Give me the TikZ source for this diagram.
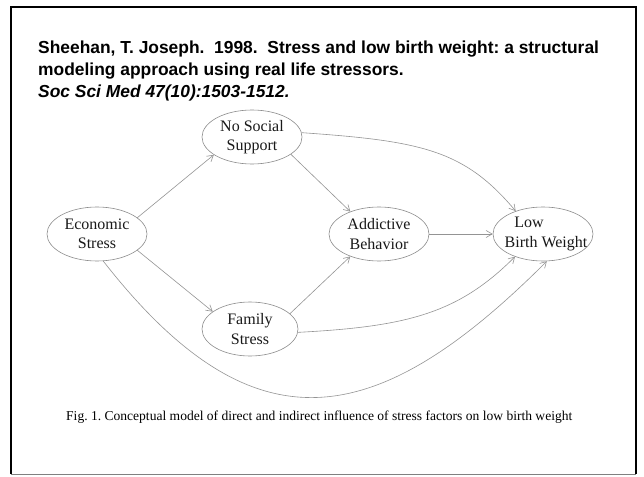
\documentclass[tikz,border=0pt]{standalone}
\usepackage{fontspec}
\setmainfont{Liberation Serif}
\newfontfamily\titlefont{Liberation Sans}
\usetikzlibrary{arrows.meta,shapes.geometric}
\frenchspacing
\begin{document}
\begin{tikzpicture}[x=1pt,y=1pt,
  factor/.style={ellipse, draw=black!45, line width=0.6pt,
    minimum width=100pt, minimum height=54pt, inner sep=0pt},
  lbl/.style={align=center, font=\fontsize{16}{19.5}\selectfont, text=black!90},
  link/.style={draw=black!42, line width=0.6pt,
    -{Straight Barb[length=6pt,width=7pt]}},
  titleline/.style={anchor=base west, inner sep=0pt,
    font=\titlefont\bfseries\fontsize{17.4}{21}\selectfont}
]
\useasboundingbox (0,0) rectangle (644,-476);
\fill[white] (0,0) rectangle (644,-476);

% slide frame
\draw[line width=2pt] (11,-474) -- (11,-7) -- (636,-7) -- (636,-474);
\draw[line width=1pt, black!50] (11,-474) -- (636,-474);

% citation
\node[titleline] (t1) at (38,-54) {Sheehan, T. Joseph.\ \ 1998.\ \ Stress and low birth weight: a structural};
\node[titleline] (t2) at (38,-76) {modeling approach using real life stressors.};
\node[titleline, font=\titlefont\bfseries\itshape\fontsize{17.4}{21}\selectfont] (t3) at (38,-98) {Soc Sci Med 47(10):1503-1512.};

% factors
\node[factor] (eco) at (97,-234) {};
\node[factor] (nss) at (252,-137) {};
\node[factor, minimum width=96pt] (fam) at (250,-329) {};
\node[factor] (add) at (379,-234) {};
\node[factor] (lbw) at (543,-234) {};

\node[lbl] at (eco) {Economic\\Stress};
\node[lbl] at (nss) {No Social\\Support};
\node[lbl] at (fam) {Family\\Stress};
\node[lbl] at (add) {Addictive\\Behavior};
\node[lbl] at ([xshift=3pt]lbw.center) {Low\rule{34pt}{0pt}\\Birth Weight};

% paths
\draw[link] (eco.22) -- (nss.205);
\draw[link] (eco.-22) -- (fam.155);
\draw[link] (nss.-24) -- (add.142);
\draw[link] (fam.21) -- (add.218);
\draw[link] (add.east) -- (lbw.west);
\draw[link] (nss.5) to[out=-4, in=130, out distance=120pt, in distance=80pt] (lbw.140);
\draw[link] (fam.-4) to[out=3, in=225, out distance=110pt, in distance=80pt] (lbw.219);
\draw[link] (eco.-77) to[out=-52, in=225, out distance=243pt, in distance=243pt] (lbw.-82);

% caption
\node[anchor=base west, inner sep=0pt, font=\fontsize{13.55}{16}\selectfont] (cap) at (66,-420)
  {Fig. 1. Conceptual model of direct and indirect influence of stress factors on low birth weight};
\end{tikzpicture}
\end{document}
